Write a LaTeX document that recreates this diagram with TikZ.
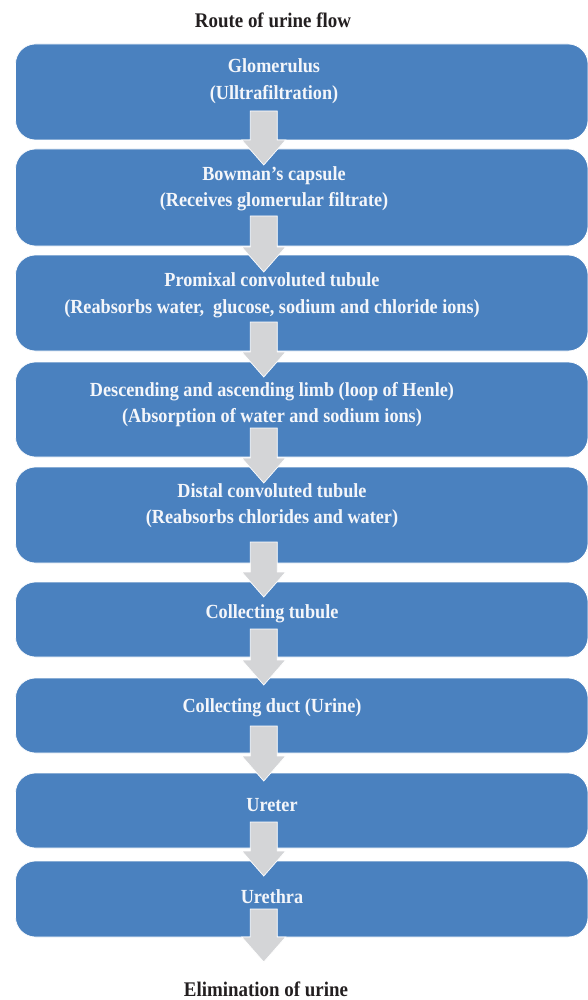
\documentclass[tikz,border=0pt]{standalone}
\usepackage{fontspec}
\setmainfont{Liberation Serif}
\newfontfamily\condfont[FakeStretch=0.91]{Liberation Serif}
\definecolor{boxblue}{HTML}{4A81BF}
\definecolor{arrgray}{HTML}{D4D5D7}
\definecolor{titleink}{HTML}{231F20}
\definecolor{boxtext}{HTML}{F4F6FA}
\newcommand\blockarr[3]{% name, top y, tip y
  \coordinate (#1s) at (263.75,#2);
  \coordinate (#1t) at (263.75,#3);
  \path[arrowshape] (#1s) ++(-13.5,0) -- ++(27,0) -- ++(0,#3-#2-25) -- ++(8.5,0) -- (#1t) -- ++(-22,-25) -- ++(8.5,0) -- cycle;
}
\begin{document}
\begin{tikzpicture}[x=1pt,y=-1pt,
  box/.style={rectangle, rounded corners=20pt, fill=boxblue, draw=white, line width=0.7pt, minimum width=572.5pt, inner sep=0pt},
  boxlabel/.style={text=boxtext, font=\condfont\fontsize{20}{26.5}\selectfont\bfseries, align=center, inner sep=0pt},
  titlelabel/.style={text=titleink, font=\condfont\fontsize{20.8}{26.5}\selectfont\bfseries, inner sep=0pt},
  arrowshape/.style={fill=arrgray, draw=white, line width=0.7pt, line join=miter}]
\useasboundingbox (0,0) rectangle (587,1000);
\fill[white] (0,0) rectangle (587,1000);

\node[titlelabel] (title) at (273,20) {Route of urine flow};

\node[box, minimum height=96pt] (b1) at (301.75,92) {};
\node[box, minimum height=97pt] (b2) at (301.75,197.5) {};
\node[box, minimum height=96pt] (b3) at (301.75,303) {};
\node[box, minimum height=95pt] (b4) at (301.75,409.5) {};
\node[box, minimum height=96pt] (b5) at (301.75,515) {};
\node[box, minimum height=75pt] (b6) at (301.75,619.5) {};
\node[box, minimum height=75pt] (b7) at (301.75,715.5) {};
\node[box, minimum height=75pt] (b8) at (301.75,810.5) {};
\node[box, minimum height=76pt] (b9) at (301.75,899) {};

\node[boxlabel] (t1) at (274,81) {Glomerulus\\(Ulltrafiltration)};
\node[boxlabel] (t2) at (274,189) {Bowman’s capsule\\(Receives glomerular filtrate)};
\node[boxlabel] (t3) at (272,295.5) {Promixal convoluted tubule\\(Reabsorbs water,\ \ glucose, sodium and chloride ions)};
\node[boxlabel] (t4) at (272,404.5) {Descending and ascending limb (loop of Henle)\\(Absorption of water and sodium ions)};
\node[boxlabel] (t5) at (272,505.5) {Distal convoluted tubule\\(Reabsorbs chlorides and water)};
\node[boxlabel] (t6) at (272,614) {Collecting tubule};
\node[boxlabel] (t7) at (272,708) {Collecting duct (Urine)};
\node[boxlabel] (t8) at (272,805) {Ureter};
\node[boxlabel] (t9) at (272,897) {Urethra};

\blockarr{a1}{111}{165}
\blockarr{a2}{216}{272}
\blockarr{a3}{322}{377}
\blockarr{a4}{428}{483}
\blockarr{a5}{542}{597}
\blockarr{a6}{629}{685}
\blockarr{a7}{726}{781}
\blockarr{a8}{822}{876}
\blockarr{a9}{909}{962}

\node[titlelabel] (elim) at (266,989) {Elimination of urine};
\end{tikzpicture}
\end{document}
